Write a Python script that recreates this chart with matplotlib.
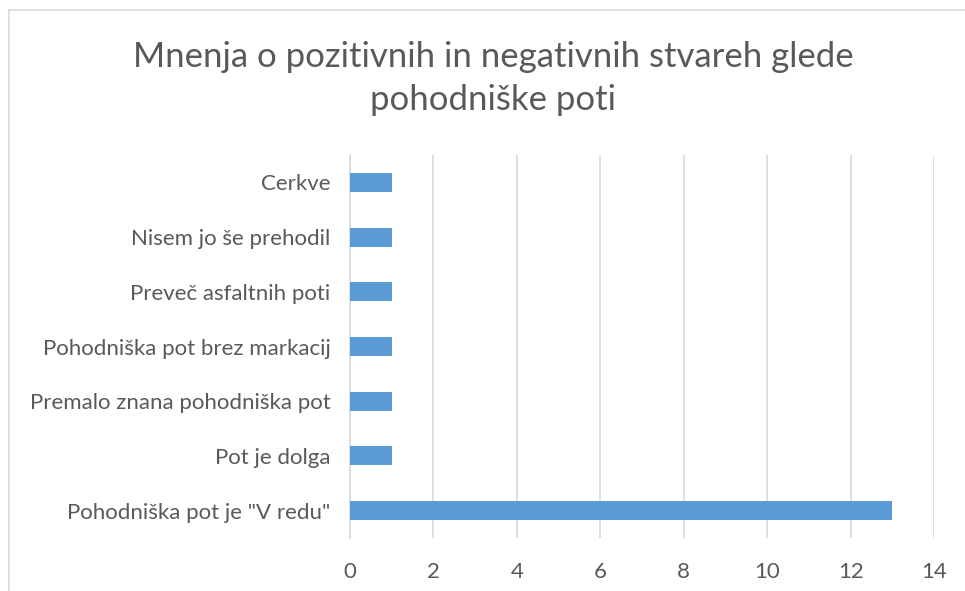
import matplotlib.pyplot as plt
from matplotlib.lines import Line2D

BAR_COLOR = "#5B9BD5"
TEXT_COLOR = "#595959"
GRID_COLOR = "#D9D9D9"

categories = [
    'Pohodniška pot je "V redu"',
    "Pot je dolga",
    "Premalo znana pohodniška pot",
    "Pohodniška pot brez markacij",
    "Preveč asfaltnih poti",
    "Nisem jo še prehodil",
    "Cerkve",
]
counts = [13, 1, 1, 1, 1, 1, 1]
x_ticks = [0, 2, 4, 6, 8, 10, 12, 14]

plt.rcParams["font.family"] = ["Lato", "DejaVu Sans"]

fig = plt.figure(figsize=(9.65, 5.91), dpi=100)
ax = fig.add_axes([0.3627, 0.0897, 0.6052, 0.648])

ax.barh(range(len(categories)), counts, height=0.35, color=BAR_COLOR, zorder=3)
ax.set_ylim(-0.5, len(categories) - 0.5)
ax.set_xlim(0, 14)
ax.set_xticks(x_ticks)
ax.set_yticks(range(len(categories)))
ax.set_yticklabels(categories)

ax.grid(axis="x", color=GRID_COLOR, linewidth=1.2, zorder=0)
for side in ["top", "right", "bottom"]:
    ax.spines[side].set_visible(False)
ax.spines["left"].set_color(GRID_COLOR)
ax.spines["left"].set_linewidth(1.2)

ax.tick_params(axis="y", length=0, pad=14, labelsize=16, labelcolor=TEXT_COLOR)
ax.tick_params(axis="x", length=0, pad=17, labelsize=16, labelcolor=TEXT_COLOR)

fig.text(0.511, 0.867, "Mnenja o pozitivnih in negativnih stvareh glede\npohodniške poti",
         ha="center", va="center", fontsize=25, color=TEXT_COLOR, linespacing=1.42)

# chart frame (only left and top edges visible in the crop)
fig.add_artist(Line2D([9 / 965, 9 / 965], [0, 1 - 10 / 591], color=GRID_COLOR, linewidth=1.2))
fig.add_artist(Line2D([9 / 965, 1], [1 - 10 / 591, 1 - 10 / 591], color=GRID_COLOR, linewidth=1.2))

plt.savefig("out.png", dpi=100)
